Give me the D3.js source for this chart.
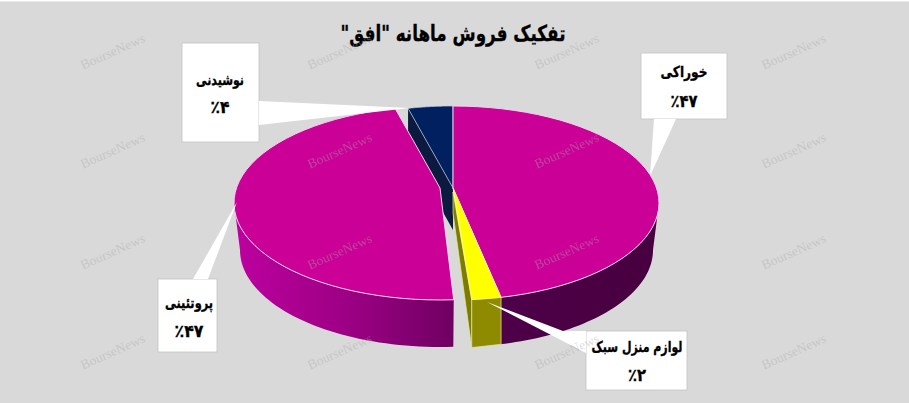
<!DOCTYPE html>
<html lang="fa"><head><meta charset="utf-8">
<script src="https://cdn.jsdelivr.net/npm/d3@7"></script>
<style>html,body{margin:0;padding:0;background:#d9d9d9;overflow:hidden}svg{display:block}
text{font-family:"DejaVu Sans",sans-serif;font-weight:bold;fill:#000;text-anchor:middle}</style>
</head><body><svg id="c" width="909" height="403"></svg>
<script>
const chartTitle = 'تفکیک فروش ماهانه "افق"';
const categories = ["خوراکی", "لوازم منزل سبک", "پروتئینی", "نوشیدنی"];
const shares = [46.25, 2.3, 47.95, 3.5];
const percentLabels = ["٪۴۷", "٪۲", "٪۴۷", "٪۴"];
const watermark = "BourseNews";

const W = 909, H = 403;
const svg = d3.select("#c");
const defs = svg.append("defs");
const lg = defs.append("linearGradient").attr("id","leftWall").attr("gradientUnits","userSpaceOnUse")
  .attr("x1",234).attr("x2",454).attr("y1",0).attr("y2",0);
lg.append("stop").attr("offset",0).attr("stop-color","#bd009f");
lg.append("stop").attr("offset",.55).attr("stop-color","#9a0082");
lg.append("stop").attr("offset",1).attr("stop-color","#6f0062");
const rg = defs.append("linearGradient").attr("id","rightWall").attr("gradientUnits","userSpaceOnUse")
  .attr("x1",472).attr("x2",655).attr("y1",0).attr("y2",0);
rg.append("stop").attr("offset",0).attr("stop-color","#4f0049");
rg.append("stop").attr("offset",1).attr("stop-color","#470040");

svg.append("rect").attr("width",W).attr("height",H).attr("fill","#d9d9d9");
svg.append("rect").attr("width",W).attr("height",1.5).attr("fill","#fff");

const TOP = {cx:453, cy:203, rx:206, ry:97};
const BOT = {cx:453, cy:250, rx:200, ry:97};
const APEX = {x:453, y:188}, DEPTH = 42;
const deg = Math.PI/180;
const pt = (E,a,dx=0)=>[E.cx+dx+E.rx*Math.sin(a), E.cy-E.ry*Math.cos(a)];
const rim = (E,a0,a1,dx=0)=>{const n=48;return d3.range(n+1).map(i=>pt(E,a0+(a1-a0)*i/n,dx));};
const line = d3.line();
const arcs = d3.pie().sort(null).value(d=>d)(shares);
const [aPink,aYellow,aLeft,aNavy] = arcs;
const rimStroke = "#f6d3ee";
function poly(points,fill,stroke,sw){
  svg.append("path").attr("d",line(points)+"Z").attr("fill",fill)
    .attr("stroke",stroke||"none").attr("stroke-width",sw||0).attr("stroke-linejoin","round");
}
function wedgeTop(a0,a1,dx,apexDx){return [[APEX.x+apexDx,APEX.y],...rim(TOP,a0,a1,dx)];}

poly([...rim(TOP,90*deg,aPink.endAngle),...rim(BOT,aPink.endAngle,90*deg)],"url(#rightWall)");
const navyRimPt = pt(TOP,aNavy.startAngle);
poly([[APEX.x,APEX.y],navyRimPt,[navyRimPt[0],navyRimPt[1]+DEPTH],[APEX.x,APEX.y+DEPTH]],"#0b1a3e");
poly(wedgeTop(aNavy.startAngle,aNavy.endAngle,0,0),"#002060","#c6cde0",.7);
poly(wedgeTop(aPink.startAngle,aPink.endAngle,0,0),"#cb0097",rimStroke,1);
const yR = pt(TOP,aYellow.startAngle), yL = pt(TOP,aYellow.endAngle);
const yRb = pt(BOT,aYellow.startAngle,0);
poly([[APEX.x,APEX.y+4],yL,[yL[0],yL[1]+48],[APEX.x,APEX.y+25]],"#7c7c00","#e8e8a0",.7);
poly([yL,yR,[yR[0],yRb[1]],[yL[0],yL[1]+48]],"#8f8b00","#e8e8a0",.7);
poly(wedgeTop(aYellow.startAngle,aYellow.endAngle,0,0),"#ffff00","#fffbb0",.7);
const LDX = -13, gapA = 1.4*deg;
const ls = aLeft.startAngle+gapA;
poly([...rim(TOP,ls,270*deg,LDX),...rim(BOT,270*deg,ls,LDX)],"url(#leftWall)");
poly(wedgeTop(ls,aLeft.endAngle,LDX,LDX),"#cb0097",rimStroke,1);

function fitted(parent,str,x,y,size,width,rtl){
  const t=parent.append("text").attr("font-size",size).attr("stroke","#000").attr("stroke-width",.35).text(str);
  if(rtl) t.attr("direction","rtl");
  const sx=width/t.node().getComputedTextLength();
  t.attr("transform",`translate(${x},${y}) scale(${sx},1)`);
}
const callouts = [
 {box:[641,53,727,119],base:[[654,119],[676,119]],tip:[650,176],ty:[77,107],cx:684,w:[47,27]},
 {box:[586,331,687,390],base:[[563,331],[586,353]],tip:[487,302],ty:[352,381],cx:637,w:[91,18],corner:[586,331]},
 {box:[158,279,217,352],base:[[193,279],[208,279]],tip:[237,202],ty:[308,337],cx:189,w:[48,29]},
 {box:[182,43,259,142],base:[[259,101],[259,125]],tip:[410,108],ty:[85,113],cx:220,w:[48,19]}
];
callouts.forEach((c,i)=>{
  const [x0,y0,x1,y1]=c.box;
  svg.append("rect").attr("x",x0).attr("y",y0).attr("width",x1-x0).attr("height",y1-y0)
    .attr("fill","#fff").attr("stroke","#c4c4c4").attr("stroke-width",.8);
  const pts=[c.base[0],c.tip,c.base[1]]; if(c.corner) pts.push(c.corner);
  poly(pts,"#fff");
  fitted(svg,categories[i],c.cx,c.ty[0],15,c.w[0],true);
  fitted(svg,percentLabels[i],c.cx,c.ty[1],17,c.w[1],false);
});
fitted(svg,chartTitle,453,41,22,225,true);

const cols=[113,340,567,794], rows=[52,151,252,352];
rows.forEach(y=>cols.forEach(x=>{
  svg.append("text").attr("transform",`translate(${x},${y}) rotate(-24)`).attr("dy",4)
    .style("font-family","'Liberation Serif',serif").style("font-weight","normal")
    .style("fill","rgba(170,170,170,.42)").attr("font-size",13.5).text(watermark);
}));
</script></body></html>
